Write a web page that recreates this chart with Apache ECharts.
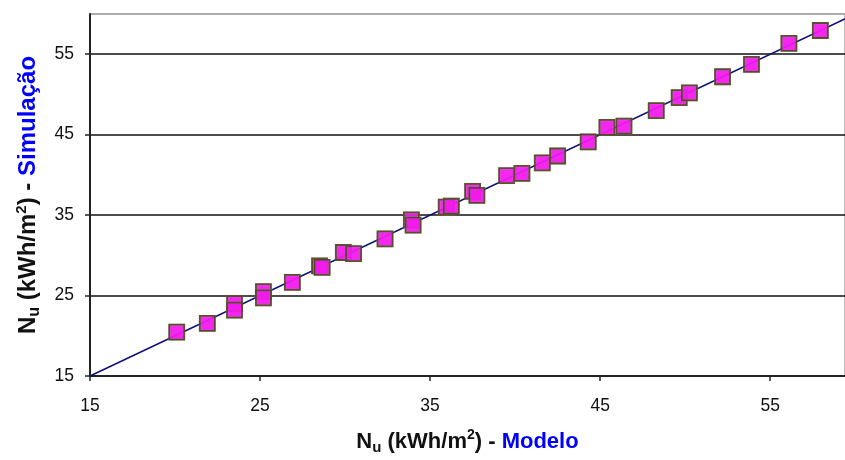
<!DOCTYPE html>
<html>
<head>
<meta charset="utf-8">
<script src="https://cdn.jsdelivr.net/npm/echarts@6/dist/echarts.min.js"></script>
<style>html,body{margin:0;padding:0;background:#fff}#c{width:845px;height:460px}</style>
</head>
<body>
<div id="c"></div>
<script>
// Modelo (x) values
var modelo = [20.1, 21.9, 23.5, 23.5, 25.2, 25.2, 26.9, 28.5, 28.65, 29.9, 30.5, 32.35, 33.9, 34.0, 35.95, 36.25, 37.5, 37.75, 39.5, 40.4, 41.6, 42.5, 44.3, 45.4, 46.4, 48.3, 49.65, 50.25, 52.2, 53.9, 56.1, 57.95];
// Simulação (y) values
var simulacao = [20.45, 21.55, 24.0, 23.2, 25.5, 24.7, 26.65, 28.7, 28.5, 30.35, 30.2, 32.05, 34.4, 33.75, 36.0, 36.1, 37.95, 37.45, 39.9, 40.2, 41.5, 42.35, 44.1, 45.9, 46.05, 48.0, 49.6, 50.2, 52.2, 53.75, 56.35, 57.95];
// Reference line y = x
var lineX = [15, 60];
var lineY = [15, 60];
// Tick labels
var xTicks = [15, 25, 35, 45, 55];
var yTicks = [15, 25, 35, 45, 55];

var points = modelo.map(function (v, i) { return [v, simulacao[i]]; });
var linePts = lineX.map(function (v, i) { return [v, lineY[i]]; });

var font = '"Liberation Sans", Arial, sans-serif';
function makeRich(fs) {
  return {
    a: { fontFamily: font, fontSize: fs, fontWeight: 'bold', color: '#111' },
    sub: { fontFamily: font, fontSize: Math.round(fs * 0.68), fontWeight: 'bold', color: '#111', padding: [Math.round(fs * 0.55), 0, 0, 0] },
    sup: { fontFamily: font, fontSize: Math.round(fs * 0.62), fontWeight: 'bold', color: '#111', padding: [0, 0, Math.round(fs * 0.55), 0] },
    b: { fontFamily: font, fontSize: fs, fontWeight: 'bold', color: '#0000ff' }
  };
}

var chart = echarts.init(document.getElementById('c'), null, { renderer: 'canvas' });
chart.setOption({
  animation: false,
  backgroundColor: '#fff',
  grid: { left: 90, right: -1, top: 14, bottom: 80, show: true, borderColor: '#a6a6a6', borderWidth: 1.5, containLabel: false },
  xAxis: {
    type: 'value', min: 15, max: 59.4, interval: 10,
    axisLine: { show: true, onZero: false, lineStyle: { color: '#222', width: 2 } },
    axisTick: { show: true, length: 5, lineStyle: { color: '#222', width: 1.5 } },
    axisLabel: {
      fontFamily: font, fontSize: 17.5, color: '#111', margin: 21, showMaxLabel: false,
      formatter: function (v) { return xTicks.indexOf(v) >= 0 ? String(v) : ''; }
    },
    splitLine: { show: false },
    name: '{a|N}{sub|u}{a| (kWh/m}{sup|2}{a|) - }{b|Modelo}',
    nameLocation: 'middle', nameGap: 52,
    nameTextStyle: { rich: makeRich(22) }
  },
  yAxis: {
    type: 'value', min: 15, max: 60, interval: 10,
    axisLine: { show: true, onZero: false, lineStyle: { color: '#222', width: 2 } },
    axisTick: { show: true, length: 5, lineStyle: { color: '#222', width: 1.5 } },
    axisLabel: {
      fontFamily: font, fontSize: 17.5, color: '#111', margin: 16, showMaxLabel: false,
      formatter: function (v) { return yTicks.indexOf(v) >= 0 ? String(v) : ''; }
    },
    splitLine: { show: true, lineStyle: { color: ['#111', '#111', '#111', '#111', '#111', '#a6a6a6'], width: 1.6 } },
    name: '{a|N}{sub|u}{a| (kWh/m}{sup|2}{a|) - }{b|Simulação}',
    nameLocation: 'middle', nameGap: 47, nameRotate: 90,
    nameTextStyle: { rich: makeRich(24) }
  },
  series: [
    {
      type: 'line', data: linePts, symbol: 'none', clip: true,
      lineStyle: { color: '#10107a', width: 1.5 }, z: 2
    },
    {
      type: 'scatter', data: points, symbol: 'rect', symbolSize: 15,
      itemStyle: { color: '#ff00ff', borderColor: '#3f3a14', borderWidth: 1.8, shadowColor: 'rgba(170,170,130,0.9)', shadowBlur: 1 },
      z: 3
    }
  ]
});
</script>
</body>
</html>
